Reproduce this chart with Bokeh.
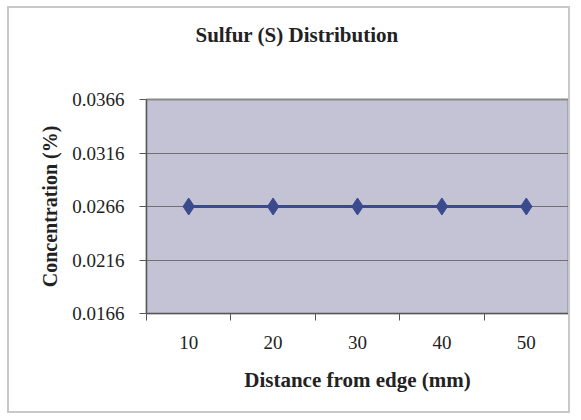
from bokeh.plotting import figure
from bokeh.models import Range1d, FixedTicker, PrintfTickFormatter, Title
from bokeh.embed import file_html
from bokeh.resources import INLINE

# Data
distance_mm = [10, 20, 30, 40, 50]
sulfur_pct = [0.0266, 0.0266, 0.0266, 0.0266, 0.0266]
y_ticks = [0.0166, 0.0216, 0.0266, 0.0316, 0.0366]
x_boundaries = [5, 15, 25, 35, 45, 55]
title_text = "Sulfur (S) Distribution"

SERIF = "Liberation Serif"
TXT = "#222222"

p = figure(width=563, height=407, output_backend="svg", toolbar_location=None,
           x_range=Range1d(x_boundaries[0], x_boundaries[-1]),
           y_range=Range1d(y_ticks[0], y_ticks[-1]),
           min_border_left=137, min_border_top=0, min_border_right=4, min_border_bottom=102,
           margin=(6, 0, 0, 7),
           styles={"border": "2px solid #c9c9c9"})
p.title = None

# blank spacer between frame and title
spacer = Title(text=" ", standoff=14, text_font=SERIF, text_font_size="21px")
p.add_layout(spacer, "above")
t = Title(text=title_text, align="left", offset=49, standoff=25,
          text_font=SERIF, text_font_size="21px", text_font_style="bold", text_color=TXT)
p.add_layout(t, "above")

p.background_fill_color = "#c4c3d6"
p.border_fill_color = "white"
p.outline_line_color = "#8a8a8a"
p.outline_line_width = 2

# line + markers
p.line(distance_mm, sulfur_pct, line_color="#3b4a8c", line_width=3)
p.scatter(distance_mm, sulfur_pct, marker="diamond", size=17, fill_color="#3b4a8c", line_color="#3b4a8c")

# y axis
p.yaxis.ticker = FixedTicker(ticks=y_ticks)
p.yaxis.formatter = PrintfTickFormatter(format="%.4f")
p.yaxis.axis_label = "Concentration (%)"
p.yaxis.axis_label_text_font = SERIF
p.yaxis.axis_label_text_font_size = "20px"
p.yaxis.axis_label_text_font_style = "bold"
p.yaxis.axis_label_text_color = TXT
p.yaxis.axis_label_standoff = 8
p.yaxis.major_label_text_font = SERIF
p.yaxis.major_label_text_font_size = "19px"
p.yaxis.major_label_text_color = TXT
p.yaxis.major_label_standoff = 15
p.yaxis.major_tick_out = 7
p.yaxis.major_tick_in = 0
p.yaxis.minor_tick_out = 0
p.yaxis.minor_tick_in = 0
p.yaxis.axis_line_color = "#555555"
p.yaxis.major_tick_line_color = "#555555"

# x axis
p.xaxis.ticker = FixedTicker(ticks=distance_mm, minor_ticks=x_boundaries)
p.xaxis.axis_label = "Distance from edge (mm)"
p.xaxis.axis_label_text_font = SERIF
p.xaxis.axis_label_text_font_size = "21px"
p.xaxis.axis_label_text_font_style = "bold"
p.xaxis.axis_label_text_color = TXT
p.xaxis.axis_label_standoff = 16
p.xaxis.major_label_text_font = SERIF
p.xaxis.major_label_text_font_size = "19px"
p.xaxis.major_label_text_color = TXT
p.xaxis.major_label_standoff = 15
p.xaxis.major_tick_out = 0
p.xaxis.major_tick_in = 0
p.xaxis.minor_tick_out = 7
p.xaxis.minor_tick_in = 0
p.xaxis.axis_line_color = "#555555"
p.xaxis.minor_tick_line_color = "#555555"

p.xgrid.visible = False
p.ygrid.ticker = FixedTicker(ticks=y_ticks)
p.ygrid.grid_line_color = "#707070"
p.ygrid.grid_line_width = 1

open("out.html", "w").write(file_html(p, INLINE))
